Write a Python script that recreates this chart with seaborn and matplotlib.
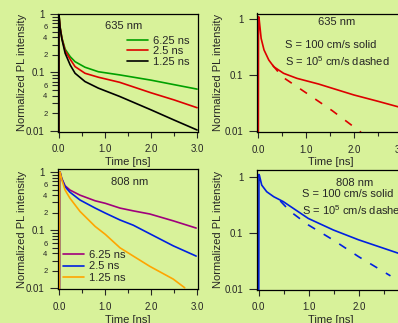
import matplotlib
matplotlib.use("Agg")
import matplotlib.pyplot as plt
import matplotlib.ticker as mticker
import numpy as np
import pandas as pd
import seaborn as sns

# ---- data ----
# 635 nm, different lifetimes (top left)
t635 = [0.0, 0.005, 0.01, 0.03, 0.07, 0.14, 0.25, 0.355, 0.57, 0.86, 1.32, 2.0, 2.5, 3.0]
i635_625 = [0.001, 1.0, 0.9, 0.6, 0.39, 0.25, 0.186, 0.153, 0.123, 0.103, 0.091, 0.074, 0.062, 0.052]
i635_25 = [0.001, 1.0, 0.9, 0.6, 0.38, 0.235, 0.168, 0.126, 0.097, 0.083, 0.068, 0.045, 0.034, 0.025]
i635_125 = [0.001, 1.0, 0.9, 0.58, 0.37, 0.213, 0.134, 0.097, 0.070, 0.054, 0.039, 0.023, 0.0154, 0.0104]

# 635 nm, surface recombination (top right)
t635_s = [0.0, 0.005, 0.015, 0.06, 0.12, 0.22, 0.325, 0.53, 0.81, 1.26, 2.0, 2.5, 3.0]
i635_solid = [0.001, 1.1, 1.05, 0.45, 0.28, 0.185, 0.14, 0.107, 0.087, 0.069, 0.044, 0.034, 0.026]
t635_d = [0.3, 0.5, 1.0, 1.55, 2.15]
i635_dash = [0.15, 0.093, 0.048, 0.023, 0.0095]

# 808 nm, different lifetimes (bottom left)
t808 = [0.0, 0.005, 0.015, 0.05, 0.124, 0.23, 0.45, 0.78, 1.0, 1.32, 1.61, 1.97, 2.48, 2.98]
i808_625 = [0.001, 1.0, 1.0, 0.78, 0.58, 0.49, 0.40, 0.32, 0.29, 0.24, 0.215, 0.19, 0.145, 0.109]
i808_25 = [0.001, 1.0, 1.0, 0.77, 0.56, 0.45, 0.33, 0.24, 0.197, 0.15, 0.122, 0.087, 0.054, 0.036]
t808_o = [0.0, 0.005, 0.015, 0.05, 0.124, 0.23, 0.45, 0.78, 1.0, 1.32, 1.61, 1.97, 2.48, 2.73]
i808_125 = [0.001, 1.0, 1.0, 0.75, 0.49, 0.355, 0.21, 0.116, 0.085, 0.05, 0.036, 0.024, 0.0145, 0.0103]

# 808 nm, surface recombination (bottom right)
t808_s = [0.0, 0.005, 0.015, 0.06, 0.16, 0.3, 0.49, 0.99, 1.49, 1.99, 2.79, 3.0]
i808_solid = [0.001, 1.1, 1.05, 0.71, 0.54, 0.44, 0.36, 0.18, 0.112, 0.075, 0.043, 0.038]
t808_d = [0.43, 0.63, 0.99, 1.49, 1.99, 2.63]
i808_dash = [0.37, 0.24, 0.138, 0.074, 0.0376, 0.017]

life_labels = ["6.25 ns", "2.5 ns", "1.25 ns"]

# ---- style ----
sns.set_style("ticks")
plt.rcParams["font.family"] = ["Liberation Sans", "DejaVu Sans"]
plt.rcParams["mathtext.default"] = "regular"
bg = "#d8f29a"

fig = plt.figure(figsize=(3.98, 3.23), dpi=100, facecolor=bg)
W, H = 398, 323


def make_ax(left, top, right, bottom):
    return fig.add_axes([left / W, 1 - bottom / H, (right - left) / W, (bottom - top) / H])


ax1 = make_ax(58, 14, 198, 131.5)
ax2 = make_ax(256.5, 13.5, 404, 132)
ax3 = make_ax(58, 169, 198, 289)
ax4 = make_ax(256.5, 170, 404, 289.5)


def long_df(series):
    frames = []
    for name, t, v in series:
        frames.append(pd.DataFrame({"t": t, "I": v, "s": name}))
    return pd.concat(frames, ignore_index=True)


df1 = long_df([("6.25 ns", t635, i635_625), ("2.5 ns", t635, i635_25), ("1.25 ns", t635, i635_125)])
df2 = long_df([("solid", t635_s, i635_solid), ("dashed", t635_d, i635_dash)])
df3 = long_df([("6.25 ns", t808, i808_625), ("2.5 ns", t808, i808_25), ("1.25 ns", t808_o, i808_125)])
df4 = long_df([("solid", t808_s, i808_solid), ("dashed", t808_d, i808_dash)])

lw = 1.2
dash_map = {"solid": "", "dashed": (5, 6)}

sns.lineplot(data=df1, x="t", y="I", hue="s", hue_order=life_labels,
             palette=["#00a000", "#dd0000", "black"], estimator=None, sort=False,
             lw=lw, ax=ax1)
sns.lineplot(data=df2, x="t", y="I", style="s", dashes=dash_map, color="#dd0000",
             estimator=None, sort=False, lw=lw, ax=ax2, legend=False)
sns.lineplot(data=df3, x="t", y="I", hue="s", hue_order=life_labels,
             palette=["#a0007c", "#0020e0", "#ffa500"], estimator=None, sort=False,
             lw=lw, ax=ax3)
sns.lineplot(data=df4, x="t", y="I", style="s", dashes=dash_map, color="#0020e0",
             estimator=None, sort=False, lw=lw, ax=ax4, legend=False)

for ax in (ax1, ax2, ax3, ax4):
    ax.set_facecolor("none")
    ax.set_yscale("log")
    for sp in ax.spines.values():
        sp.set_visible(True)
        sp.set_linewidth(0.9)
        sp.set_color("black")
    ax.xaxis.set_major_locator(mticker.MultipleLocator(1.0))
    ax.xaxis.set_minor_locator(mticker.MultipleLocator(0.5))
    ax.xaxis.set_major_formatter(mticker.FormatStrFormatter("%.1f"))
    ax.yaxis.set_major_locator(mticker.FixedLocator([0.01, 0.1, 1]))
    ax.yaxis.set_major_formatter(mticker.FixedFormatter(["0.01", "0.1", "1"]))
    ax.set_xlabel("Time [ns]", fontsize=8)
    ax.set_ylabel("Normalized PL intensity", fontsize=8)
    ax.xaxis.set_label_coords(0.5, -0.215)

# left panels: labelled minor ticks
for ax in (ax1, ax3):
    ax.yaxis.set_minor_locator(mticker.LogLocator(base=10, subs=np.arange(2, 10)))
    ax.yaxis.set_minor_formatter(mticker.FuncFormatter(
        lambda v, p: str(int(round(v / 10 ** np.floor(np.log10(v) + 1e-9))))
        if int(round(v / 10 ** np.floor(np.log10(v) + 1e-9))) in (2, 4, 6) else ""))
    ax.yaxis.set_label_coords(-0.218, 0.5)

for ax in (ax2, ax4):
    ax.yaxis.set_minor_locator(mticker.NullLocator())
    ax.yaxis.set_label_coords(-0.224, 0.5)

for ax in (ax1, ax2, ax3, ax4):
    ax.tick_params(axis="x", which="major", length=4, width=0.8, pad=5, labelsize=7, direction="out")
    ax.tick_params(axis="x", which="minor", length=3, width=0.8, direction="out")
    ax.tick_params(axis="y", which="major", length=6, width=0.8, pad=3.5, labelsize=7, direction="out")
    ax.tick_params(axis="y", which="minor", length=4, width=0.8, pad=3.5, labelsize=5.5, direction="out")

ax1.set_xlim(-0.015, 3.02)
ax1.set_ylim(0.0098, 1.0)
ax2.set_xlim(-0.037, 3.05)
ax2.set_ylim(0.0096, 1.25)
ax3.set_xlim(-0.03, 3.02)
ax3.set_ylim(0.0098, 1.125)
ax4.set_xlim(-0.044, 2.9)
ax4.set_ylim(0.0097, 1.32)

leg_kw = dict(frameon=False, fontsize=8, borderpad=0, handlelength=1.9,
              handletextpad=0.45, labelspacing=0.05, borderaxespad=0)
h, l = ax1.get_legend_handles_labels()
ax1.legend(h, l, loc="upper left", bbox_to_anchor=(0.49, 0.817), **leg_kw)
h, l = ax3.get_legend_handles_labels()
ax3.legend(h, l, loc="upper left", bbox_to_anchor=(0.036, 0.327), **dict(leg_kw, labelspacing=0.15))

ax1.text(0.471, 0.90, "635 nm", transform=ax1.transAxes, ha="center", va="center", fontsize=8)
ax2.text(0.544, 0.925, "635 nm", transform=ax2.transAxes, ha="center", va="center", fontsize=8)
ax2.text(0.193, 0.73, "S = 100 cm/s solid", transform=ax2.transAxes, ha="left", va="center", fontsize=8)
ax2.text(0.193, 0.595, "S = 10$^5$ cm/s dashed", transform=ax2.transAxes, ha="left", va="center", fontsize=8)
ax3.text(0.514, 0.892, "808 nm", transform=ax3.transAxes, ha="center", va="center", fontsize=8)
ax4.text(0.668, 0.891, "808 nm", transform=ax4.transAxes, ha="center", va="center", fontsize=8)
ax4.text(0.308, 0.80, "S = 100 cm/s solid", transform=ax4.transAxes, ha="left", va="center", fontsize=8)
ax4.text(0.308, 0.665, "S = 10$^5$ cm/s dashed", transform=ax4.transAxes, ha="left", va="center", fontsize=8)

fig.savefig("out.png", dpi=100, facecolor=bg)
